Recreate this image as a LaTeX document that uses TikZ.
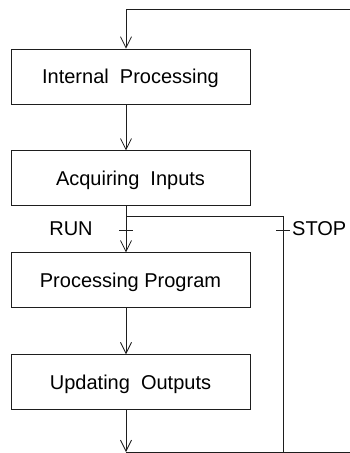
\documentclass[tikz,border=0pt]{standalone}
\usepackage{fontspec}
\setmainfont{Liberation Sans}
\usetikzlibrary{arrows.meta, positioning}

\begin{document}
\begin{tikzpicture}[x=1pt, y=1pt, >={Straight Barb[length=11pt, width=11pt]}]

\definecolor{linecolor}{RGB}{30, 30, 30}

\tikzset{
  phase/.style={draw=linecolor, line width=0.9pt, minimum width=239pt, minimum height=55pt,
    inner sep=0pt, text height=14.5pt, text depth=0pt, font=\fontsize{20}{24}\selectfont},
  flow/.style={->, line width=0.8pt, draw=linecolor},
  wire/.style={line width=0.8pt, draw=linecolor},
  cyclelabel/.style={inner sep=0pt, text height=14.5pt, text depth=0pt, font=\fontsize{20}{24}\selectfont}
}

\useasboundingbox (0,0) rectangle (350,-453);

\node[phase] (internal) at (130.5,-76.5) {Internal\ \ Processing};
\node[phase, below=46pt of internal] (inputs) {Acquiring\ \ Inputs};
\node[phase, below=46pt of inputs] (program) {Processing Program};
\node[phase, below=46pt of program] (outputs) {Updating\ \ Outputs};

\coordinate (spine) at (126,0);
\coordinate (topright) at (350,-9);
\coordinate (fork) at (126,-216);
\coordinate (stopline) at (283,-216);
\coordinate (runtick) at (126,-230);
\coordinate (stoptick) at (283,-230);
\coordinate (join) at (126,-452);
\coordinate (bottomright) at (350,-452);

\draw[flow] (topright) -| (internal.north -| spine);
\draw[flow] (internal.south -| spine) -- (inputs.north -| spine);
\draw[wire] (inputs.south -| spine) -- (fork);
\draw[flow] (fork) -- (program.north -| spine);
\draw[flow] (program.south -| spine) -- (outputs.north -| spine);
\draw[wire] (fork) -- (stopline) -- (stopline |- join);
\draw[flow] (outputs.south -| spine) -- (join);
\draw[wire] (join) -- (bottomright);

\draw[wire] ([xshift=-7pt]runtick) -- ([xshift=7pt]runtick);
\draw[wire] ([xshift=-7pt]stoptick) -- ([xshift=7pt]stoptick);
\node[cyclelabel] (run) at (71,-228) {RUN};
\node[cyclelabel, anchor=west] (stop) at (292,-228) {STOP};

\end{tikzpicture}
\end{document}
